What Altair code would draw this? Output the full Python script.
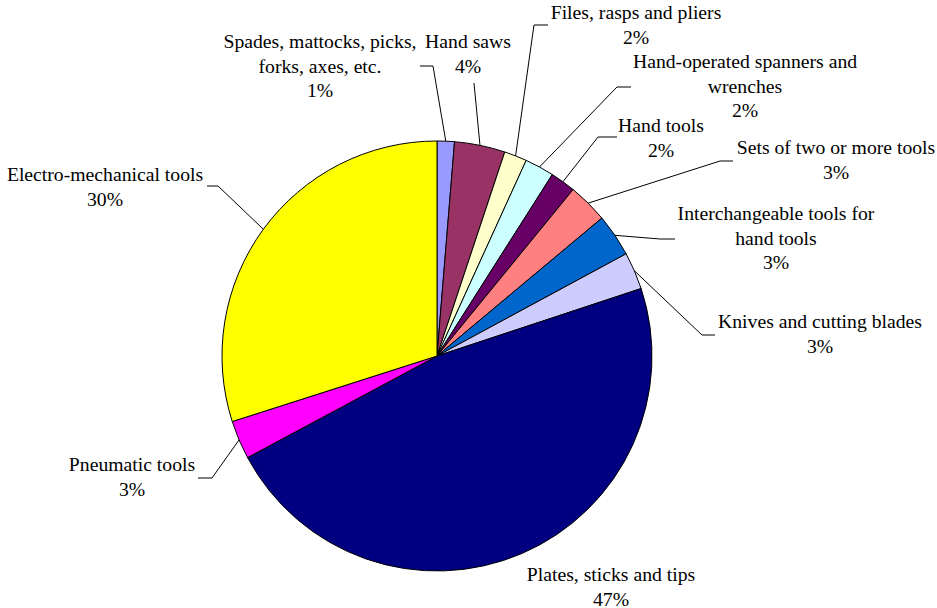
import altair as alt
import pandas as pd

# ---- data ----
categories = [
    "Spades, mattocks, picks, forks, axes, etc.",
    "Hand saws",
    "Files, rasps and pliers",
    "Hand-operated spanners and wrenches",
    "Hand tools",
    "Sets of two or more tools",
    "Interchangeable tools for hand tools",
    "Knives and cutting blades",
    "Plates, sticks and tips",
    "Pneumatic tools",
    "Electro-mechanical tools",
]
values = [1.3, 3.8, 1.7, 2.2, 1.9, 3.0, 3.2, 2.8, 47.2, 2.9, 29.9]
label_lines = [
    "Spades, mattocks, picks,\nforks, axes, etc.",
    "Hand saws",
    "Files, rasps and pliers",
    "Hand-operated spanners and\nwrenches",
    "Hand tools",
    "Sets of two or more tools",
    "Interchangeable tools for\nhand tools",
    "Knives and cutting blades",
    "Plates, sticks and tips",
    "Pneumatic tools",
    "Electro-mechanical tools",
]
colors = ["#9999FF", "#993366", "#FFFFCC", "#CCFFFF", "#660066", "#FF8080",
          "#0066CC", "#CCCCFF", "#000080", "#FF00FF", "#FFFF00"]

# ---- layout (pixel positions of labels and leader elbows) ----
CX, CY, R = 437, 356, 215
text_x = [320, 468, 636, 745, 661, 836, 776, 820, 611, 132, 105]
text_y = [48, 48, 19, 68, 132, 154, 220, 328, 581, 471, 181]
elbow_x = [433, 474, 534, 617, 598, 720, 660, 702, None, 212, 218]
elbow_y = [66, 83, 25, 87, 137, 161, 239, 335, None, 478, 186]
end_x = [420, 474, 548, 631, 617, 733, 675, 715, None, 198, 207]
end_y = [66, 83, 25, 87, 137, 161, 239, 335, None, 478, 186]

df = pd.DataFrame({
    "cat": categories, "value": values, "idx": list(range(len(categories))),
    "lines": label_lines, "tx": text_x, "ty": text_y,
    "ex": elbow_x, "ey": elbow_y, "px": end_x, "py": end_y,
})

base = alt.Chart(df)

pie = base.mark_arc(outerRadius=R, stroke="black", strokeWidth=1).encode(
    theta=alt.Theta("value:Q", stack=True),
    color=alt.Color("cat:N", scale=alt.Scale(domain=categories, range=colors), legend=None),
    order=alt.Order("idx:Q"),
    x=alt.value(CX), y=alt.value(CY),
)

geo = base.transform_window(
    cum="sum(value)", sort=[alt.SortField("idx")], frame=[None, 0]
).transform_joinaggregate(
    total="sum(value)"
).transform_calculate(
    mid="(datum.cum - datum.value/2) / datum.total * 2 * PI",
).transform_calculate(
    x0=f"{CX} + {R} * sin(datum.mid)",
    y0=f"{CY} - {R} * cos(datum.mid)",
    label="datum.lines + '\\n' + format(datum.value / datum.total, '.0%')",
)

leader1 = geo.transform_filter("isValid(datum.ex)").mark_rule(color="black", strokeWidth=1).encode(
    x=alt.X("x0:Q", scale=None, axis=None), y=alt.Y("y0:Q", scale=None, axis=None),
    x2="ex:Q", y2="ey:Q",
)
leader2 = geo.transform_filter("isValid(datum.ex)").mark_rule(color="black", strokeWidth=1).encode(
    x=alt.X("ex:Q", scale=None, axis=None), y=alt.Y("ey:Q", scale=None, axis=None),
    x2="px:Q", y2="py:Q",
)

labels = geo.mark_text(
    font="Liberation Serif", fontSize=19.7, lineHeight=24.5,
    align="center", baseline="alphabetic", lineBreak="\n", color="black",
).encode(
    x=alt.X("tx:Q", scale=None, axis=None), y=alt.Y("ty:Q", scale=None, axis=None),
    text="label:N",
)

chart = alt.layer(pie, leader1, leader2, labels).properties(
    width=937, height=608, padding=0,
    autosize=alt.AutoSizeParams(type="none"),
).configure_view(stroke=None)

chart.save("out.html", embed_options={"renderer": "svg", "actions": False})
